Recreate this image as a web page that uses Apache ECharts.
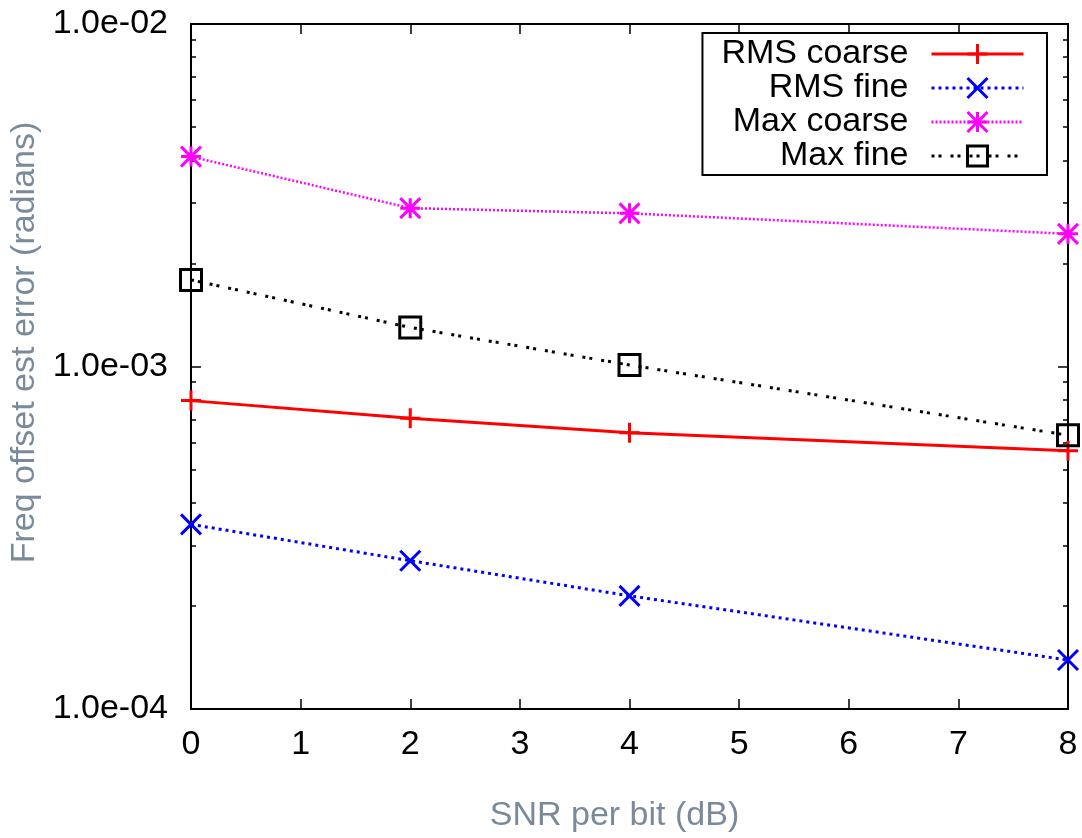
<!DOCTYPE html>
<html>
<head>
<meta charset="utf-8">
<script src="https://cdn.jsdelivr.net/npm/echarts@6/dist/echarts.min.js"></script>
<style>
    html, body { margin: 0; padding: 0; background: #fff; }
    #chart { width: 1082px; height: 838px; }
</style>
</head>
<body>
<div id="chart"></div>
<script>
// SNR per bit (dB)
const snr = [0, 2, 4, 8]
// frequency offset estimate error (radians)
const rmsCoarse = [0.000795, 0.000706, 0.000641, 0.000568]
const rmsFine = [0.000346, 0.000271, 0.000214, 0.000139]
const maxCoarse = [0.0041, 0.0029, 0.0028, 0.00244]
const maxFine = [0.00179, 0.0013, 0.00101, 0.00063]
const seriesNames = ['RMS coarse', 'RMS fine', 'Max coarse', 'Max fine']

const FONT = 'Liberation Sans, Arial, Helvetica, sans-serif'
const GREY = '#7a8a9a'

// minor ticks at 2..9 of every decade
const minorTicks = []
;[1e-4, 1e-3].forEach(d => {
    for (let k = 2; k <= 9; k++) minorTicks.push(+(k * d).toPrecision(3))
})

function expLabel(v) {
    let e = Math.round(Math.log10(v))
    let m = v / Math.pow(10, e)
    let sign = e < 0 ? '-' : '+'
    let abs = Math.abs(e)
    return m.toFixed(1) + 'e' + sign + (abs < 10 ? '0' + abs : abs)
}

function pairs(ys) {
    return snr.map((x, i) => [x, ys[i]])
}

const frame = { show: true, lineStyle: { color: '#000', width: 2 } }

function logAxis(opts) {
    return Object.assign({
        type: 'log',
        logBase: 10,
        min: 1e-4,
        max: 1e-2,
        axisLine: frame,
        splitLine: { show: false },
        axisLabel: { show: false },
        axisTick: { show: true, inside: true, length: 10, lineStyle: { color: '#000', width: 1.5 } }
    }, opts)
}

const chart = echarts.init(document.getElementById('chart'))

const option = {
    backgroundColor: '#fff',
    animation: false,
    textStyle: { fontFamily: FONT },
    grid: { left: 191, right: 14, top: 24, bottom: 129, containLabel: false, outerBoundsMode: 'none' },
    legend: {
        orient: 'vertical',
        align: 'right',
        right: 35,
        top: 33,
        padding: [4, 22, 2, 19],
        itemWidth: 92,
        itemHeight: 25,
        itemGap: 0,
        borderColor: '#000',
        borderWidth: 2,
        backgroundColor: '#fff',
        data: seriesNames,
        lineStyle: { width: 3 },
        itemStyle: { borderWidth: 3 },
        textStyle: { fontSize: 34, color: '#000', fontFamily: FONT, padding: [0, 18, 0, 0] }
    },
    xAxis: [
        {
            type: 'value',
            position: 'bottom',
            min: 0,
            max: 8,
            interval: 1,
            axisLine: frame,
            splitLine: { show: false },
            axisTick: { inside: true, length: 10, lineStyle: { color: '#000', width: 1.5 } },
            axisLabel: { fontSize: 34, color: '#000', margin: 19, fontFamily: FONT },
            name: 'SNR per bit (dB)',
            nameLocation: 'middle',
            nameGap: 90,
            nameTextStyle: { fontSize: 34, color: GREY, fontFamily: FONT, padding: [0, 30, 0, 0] }
        },
        {
            type: 'value',
            position: 'top',
            min: 0,
            max: 8,
            interval: 1,
            axisLine: frame,
            splitLine: { show: false },
            axisTick: { inside: true, length: 10, lineStyle: { color: '#000', width: 1.5 } },
            axisLabel: { show: false }
        }
    ],
    yAxis: [
        logAxis({
            position: 'left',
            axisLabel: { show: true, fontSize: 34, color: '#000', margin: 23, fontFamily: FONT, formatter: expLabel },
            name: 'Freq offset est error (radians)',
            nameLocation: 'middle',
            nameGap: 135,
            nameTextStyle: { fontSize: 34, color: GREY, fontFamily: FONT, padding: [0, 0, 0, 48] }
        }),
        logAxis({
            position: 'left',
            axisTick: { show: true, inside: true, length: 5, customValues: minorTicks, lineStyle: { color: '#000', width: 1.5 } }
        }),
        logAxis({ position: 'right' }),
        logAxis({
            position: 'right',
            axisTick: { show: true, inside: true, length: 5, customValues: minorTicks, lineStyle: { color: '#000', width: 1.5 } }
        })
    ],
    series: [
        {
            name: 'RMS coarse',
            type: 'line',
            data: pairs(rmsCoarse),
            symbol: 'path://M0,5L10,5M5,0L5,10',
            symbolSize: 20,
            itemStyle: { color: 'none', borderColor: '#ff0000', borderWidth: 3 },
            lineStyle: { color: '#ff0000', width: 3, type: 'solid' }
        },
        {
            name: 'RMS fine',
            type: 'line',
            data: pairs(rmsFine),
            symbol: 'path://M0,0L10,10M10,0L0,10',
            symbolSize: 20,
            itemStyle: { color: 'none', borderColor: '#0000ff', borderWidth: 3 },
            lineStyle: { color: '#0000ff', width: 3, type: [3, 4] }
        },
        {
            name: 'Max coarse',
            type: 'line',
            data: pairs(maxCoarse),
            symbol: 'path://M0,5L10,5M5,0L5,10M0,0L10,10M10,0L0,10',
            symbolSize: 20,
            itemStyle: { color: 'none', borderColor: '#ff00ff', borderWidth: 3 },
            lineStyle: { color: '#ff00ff', width: 2.5, type: [2, 2] }
        },
        {
            name: 'Max fine',
            type: 'line',
            data: pairs(maxFine),
            symbol: 'path://M0,0L10,0L10,10L0,10Z',
            symbolSize: 21,
            itemStyle: { color: 'none', borderColor: '#000', borderWidth: 3 },
            lineStyle: { color: '#000', width: 3, type: [3, 4, 3, 9] }
        }
    ]
}

chart.setOption(option)
</script>
</body>
</html>
